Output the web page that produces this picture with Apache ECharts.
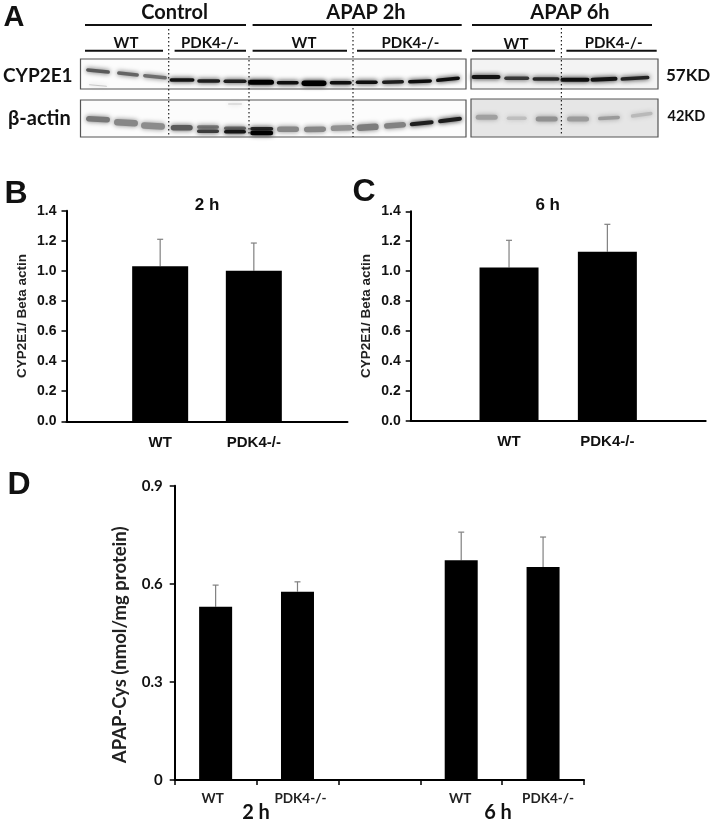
<!DOCTYPE html>
<html><head><meta charset="utf-8">
<style>html,body{margin:0;padding:0;background:#fff}#c{width:711px;height:823px;filter:blur(0.4px)}</style>
<script src="https://cdn.jsdelivr.net/npm/echarts@6/dist/echarts.min.js"></script>
</head><body><div id="c"></div>
<script>
// Panel B
const bCats = ['', 'WT', 'PDK4-/-', ''];
const bVals = [null, 1.03, 1.0, null];
const bErrTop = [null, 1.21, 1.185, null];
// Panel C
const cCats = ['', 'WT', 'PDK4-/-', ''];
const cVals = [null, 1.025, 1.13, null];
const cErrTop = [null, 1.206, 1.313, null];
// Panel D
const dCats = ['WT', 'PDK4-/-', '', 'WT', 'PDK4-/-'];
const dVals = [0.53, 0.576, null, 0.672, 0.651];
const dErrTop = [0.596, 0.606, null, 0.758, 0.743];
const dLabelStyles = ['a', 'b', 'a', 'c', 'd'];
// Panel A: blot bands
const cypX = [98,128,155,182,208.7,235,261,287.7,314,340.7,366.7,393,420,448,486,516.7,546,575,604,635,98];
const cypY = [71,74,76.7,80,81,81.3,82.3,82.7,83.3,82.7,82.3,82,81.3,79.3,77,78.3,79,79.7,79.3,78.3,85.5];
const cypW = [24,22,24,25,23,23,26,22,25,22,22,22,24,24,29,25,27,29,27,29,18];
const cypH = [3.5,3.5,3.5,3.5,3.5,3.5,5,3.5,5.5,3.5,3.5,3.5,3.5,3.5,4,3.5,3.5,4,4,3.5,1];
const cypShade = [90,100,110,20,30,30,0,15,0,15,15,30,15,15,20,55,40,15,20,35,200];
const cypTilt = [-.1,-.1,-.1,0,0,0,0,0,0,0,0,.02,.04,.1,0,0,0,0,.04,.06,-.1];
const actX = [98,126,153,181.7,208,208,235,235,261.7,261.7,288,315,341.7,367.7,395,421.7,450,486.7,516.7,546.7,578,609,641.7,235];
const actY = [119.3,122.7,126,127.7,127,131.3,128.3,131.7,128.7,133,129.3,129.3,128,127.3,125.3,123.3,120,117.3,118.3,119,119,118,114.7,104];
const actW = [24,24,24,22,22,22,22,22,23,23,22,22,22,22,22,24,24,22,20,22,22,22,22,14];
const actH = [5.5,6.5,6.5,5.5,3.5,3.5,3.5,3.5,3.5,4.5,5.5,5.5,5.5,6.5,5.5,4,4,5,3.5,5,5,3.5,3.5,1.5];
const actShade = [120,135,140,90,120,60,110,20,40,0,135,135,145,125,130,30,30,160,190,145,155,155,185,215];
const actTilt = [-.06,-.06,-.06,0,0,0,0,0,0,0,0,.02,.04,.06,.08,.1,.12,0,0,0,0,.06,.14,0];
const panelXs = [[80.5,466],[471,658]];
const laneDividers = [168.7,249,353,561.4];
const headers = [['Control',174.6,13],['APAP 2h',366,13],['APAP 6h',570,13]];
const subHeaders = [['WT',126,43],['PDK4-/-',210,43],['WT',304,43],['PDK4-/-',410.4,43],['WT',516,44],['PDK4-/-',613.6,43]];
const topRules = [[85,246],[252.6,461.7],[472,652]];
const subRules = [[85,163],[174.6,246],[252.6,347],[357,461.7],[472,555],[566.4,656.7]];

const sans = '"Liberation Sans",Arial,sans-serif';
const hum = 'Lato,"Open Sans",sans-serif';

function gtext(text,x,y,font,align){return {type:'text',z:20,style:{text,x,y,font,fill:'#111',align:align||'center',verticalAlign:'middle'}};}
function hline(a,b,y,w){return {type:'line',z:20,shape:{x1:a,y1:y,x2:b,y2:y},style:{stroke:'#111',lineWidth:w}};}
function vdots(x,a,b){return {type:'line',z:21,shape:{x1:x,y1:a,x2:x,y2:b},style:{stroke:'#222',lineWidth:1.2,lineDash:[1.5,2.5]}};}
function frame(x0,x1,y0,y1,fill){return [
 {type:'rect',z:0,shape:{x:x0,y:y0,width:x1-x0,height:y1-y0},style:{fill}},
 {type:'rect',z:19,shape:{x:x0,y:y0,width:x1-x0,height:y1-y0},style:{fill:'none',stroke:'#555',lineWidth:1.2}}];}

const graphics = [
 ...frame(panelXs[0][0],panelXs[0][1],59,89,'#fcfcfc'),
 ...frame(panelXs[1][0],panelXs[1][1],59,89,'#f3f3f3'),
 ...frame(panelXs[0][0],panelXs[0][1],100,137,'#fcfcfc'),
 ...frame(panelXs[1][0],panelXs[1][1],99,137,'#e6e6e6'),
 ...topRules.map(r=>hline(r[0],r[1],25,2)),
 ...subRules.map(r=>hline(r[0],r[1],50.7,2)),
 vdots(laneDividers[0],29,135),vdots(laneDividers[1],56,135),vdots(laneDividers[2],28,137),vdots(laneDividers[3],28,135),
 ...headers.map(h=>gtext(h[0],h[1],h[2],'700 20px '+hum)),
 ...subHeaders.map(h=>gtext(h[0],h[1],h[2],'700 15px '+hum)),
 gtext('CYP2E1',3,76,'700 19px '+hum,'left'),
 gtext('β-actin',8,119,'700 20px '+hum,'left'),
 gtext('57KD',666,76,'700 17px '+hum,'left'),
 gtext('42KD',667.5,116,'700 14.5px '+hum,'left'),
 gtext('A',14,18,'700 29px '+sans),
 gtext('B',16,194,'700 32px '+sans),
 gtext('C',364,192,'700 32px '+sans),
 gtext('D',19,485,'700 32px '+sans),
 gtext('2 h',207,205,'700 17px '+sans),
 gtext('6 h',547.7,205,'700 17px '+sans),
 gtext('2 h',256,813,'700 20px '+hum),
 gtext('6 h',498,813,'700 20px '+hum)
];

function band(p,api){
 const c=api.coord([api.value(0),api.value(1)]);
 const s=api.value(4), col='rgb('+s+','+s+','+s+')';
 const w=api.value(2), h=api.value(3);
 return {type:'rect',x:c[0],y:c[1],rotation:api.value(5),
  shape:{x:-w/2,y:-h/2,width:w,height:h,r:h/2},
  style:{fill:col,shadowBlur:5,shadowColor:col}};
}
const rows = (X,Y,W,H,S,T)=>X.map((x,i)=>[x,Y[i],W[i],H[i],S[i],T[i]]);

function errSeries(gi,tops,vals){
 return {type:'custom',xAxisIndex:gi,yAxisIndex:gi,z:1,silent:true,
  data:tops.map((t,i)=>t==null?null:[i,t,vals[i]]).filter(Boolean),
  encode:{x:0,y:1},
  renderItem(p,api){
   const t=api.coord([api.value(0),api.value(1)]),b=api.coord([api.value(0),api.value(2)]);
   const st={stroke:'#808080',lineWidth:1.2};
   return {type:'group',children:[
    {type:'line',shape:{x1:t[0],y1:t[1],x2:b[0],y2:b[1]},style:st},
    {type:'line',shape:{x1:t[0]-3,y1:t[1],x2:t[0]+3,y2:t[1]},style:st}]};
  }};
}
function yAxisBC(gi,name){return {gridIndex:gi,type:'value',min:0,max:1.4,interval:0.2,name,nameLocation:'middle',nameGap:37,
 nameTextStyle:{fontFamily:sans,fontWeight:700,fontSize:13.5,color:'#222'},
 axisLine:{show:true,lineStyle:{color:'#000',width:2}},axisTick:{show:true,length:5,lineStyle:{color:'#000',width:1.5}},
 splitLine:{show:false},
 axisLabel:{margin:10,color:'#111',fontFamily:sans,fontWeight:700,fontSize:14,formatter:v=>v.toFixed(1)}};}
function xAxisBC(gi,cats){return {gridIndex:gi,type:'category',data:cats,boundaryGap:false,
 axisLine:{lineStyle:{color:'#000',width:2}},axisTick:{show:false},
 axisLabel:{interval:0,margin:14,color:'#111',fontFamily:sans,fontWeight:700,fontSize:15}};}

const dLabelBase = {fontFamily:hum,fontWeight:700,fontSize:13.5,color:'#222'};
const option = {animation:false,backgroundColor:'#fff',
 graphic:{elements:graphics},
 grid:[
  {left:66.5,top:210.7,width:281,height:210.6},
  {left:410.7,top:211.3,width:295,height:209.4},
  {left:174.7,top:485.7,width:409.3,height:294.3},
  {left:0,top:0,width:711,height:145}
 ],
 xAxis:[xAxisBC(0,bCats),xAxisBC(1,cCats),
  {gridIndex:2,type:'category',data:dCats,boundaryGap:true,
   axisLine:{lineStyle:{color:'#000',width:2}},
   axisTick:{show:true,inside:false,length:5,alignWithLabel:false,interval:0,lineStyle:{color:'#000',width:1.5}},
   axisLabel:{interval:0,margin:12,
    formatter:(v,i)=>v?'{'+dLabelStyles[i]+'|'+v+'}':'',
    rich:{a:{...dLabelBase,padding:[0,6,0,0]},b:{...dLabelBase,padding:[0,0,0,6]},
          c:{...dLabelBase,padding:[0,2,4,0]},d:{...dLabelBase,padding:[0,0,6,10]}}}},
  {gridIndex:3,type:'value',min:0,max:711,show:false}
 ],
 yAxis:[yAxisBC(0,'CYP2E1/ Beta actin'),yAxisBC(1,'CYP2E1/ Beta actin'),
  {gridIndex:2,type:'value',min:0,max:0.9,interval:0.3,name:'APAP-Cys (nmol/mg protein)',nameLocation:'middle',nameGap:45,
   nameTextStyle:{fontFamily:hum,fontWeight:700,fontSize:18.5,color:'#222',padding:[0,24,0,0]},
   axisLine:{show:true,lineStyle:{color:'#000',width:2}},axisTick:{show:true,length:5,lineStyle:{color:'#000',width:1.5}},
   splitLine:{show:false},
   axisLabel:{margin:12,color:'#111',fontFamily:hum,fontWeight:700,fontSize:15,formatter:v=>v===0?'0':v.toFixed(1)}},
  {gridIndex:3,type:'value',min:0,max:145,inverse:true,show:false}
 ],
 series:[
  {type:'bar',xAxisIndex:0,yAxisIndex:0,data:bVals,barWidth:56,itemStyle:{color:'#000'},z:2},
  errSeries(0,bErrTop,bVals),
  {type:'bar',xAxisIndex:1,yAxisIndex:1,data:cVals,barWidth:59,itemStyle:{color:'#000'},z:2},
  errSeries(1,cErrTop,cVals),
  {type:'bar',xAxisIndex:2,yAxisIndex:2,data:dVals,barWidth:33,itemStyle:{color:'#000'},z:2},
  errSeries(2,dErrTop,dVals),
  {type:'custom',xAxisIndex:3,yAxisIndex:3,silent:true,z:3,clip:false,encode:{x:0,y:1},renderItem:band,data:rows(cypX,cypY,cypW,cypH,cypShade,cypTilt)},
  {type:'custom',xAxisIndex:3,yAxisIndex:3,silent:true,z:3,clip:false,encode:{x:0,y:1},renderItem:band,data:rows(actX,actY,actW,actH,actShade,actTilt)}
 ]
};
echarts.init(document.getElementById('c'),null,{renderer:'canvas'}).setOption(option);
</script></body></html>
